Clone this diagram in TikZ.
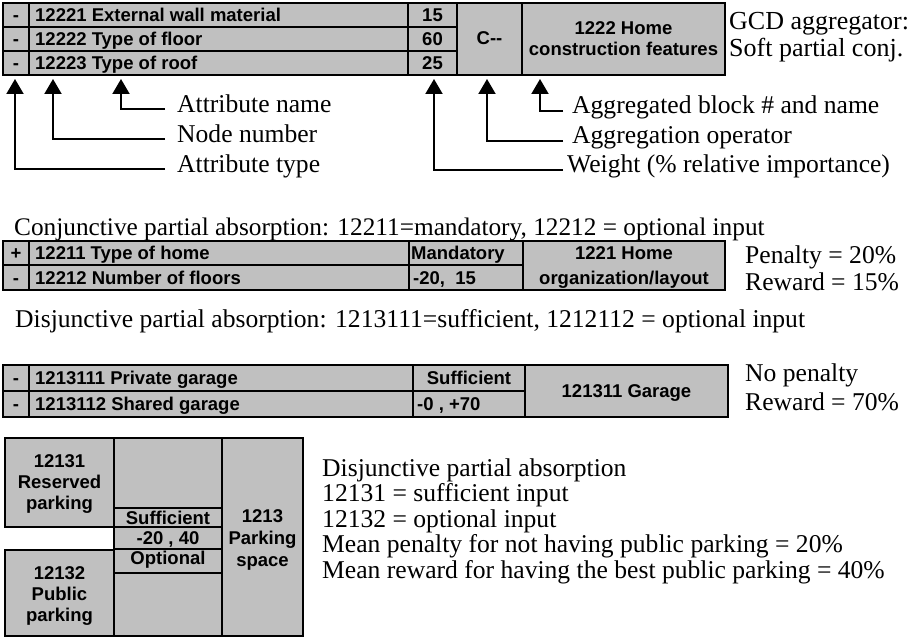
\documentclass[tikz,border=0pt]{standalone}
\usepackage{fontspec}
\setmainfont{Liberation Serif}
\setsansfont{Liberation Sans}
\usetikzlibrary{arrows.meta}
\definecolor{cellgray}{HTML}{C0C0C0}
\newcommand\cellbox[5]{\node[cell,anchor=north west,minimum width=#4pt,minimum height=#5pt] (#1) at (#2,#3) {};}
\begin{document}
\begin{tikzpicture}[x=1pt,y=-1pt,
  cell/.style={draw=black, fill=cellgray, line width=2.6pt, inner sep=0pt, outer sep=0pt},
  st/.style={font=\sffamily\bfseries\fontsize{18.5}{21}\selectfont, inner sep=0pt, anchor=base},
  stw/.style={st, anchor=base west},
  lbl/.style={font=\fontsize{25.6}{27}\selectfont, inner sep=0pt, anchor=base west},
  lblbig/.style={lbl, font=\fontsize{26}{28}\selectfont},
  lblsm/.style={lbl, font=\fontsize{25.3}{27}\selectfont},
  arr/.style={line width=2pt, -{Triangle[width=17pt,length=15pt]}},
]
\useasboundingbox (0,0) rectangle (918,639);

% ---------- Table 1 ----------
\cellbox{t1a1}{3}{3}{26}{24}
\cellbox{t1n1}{29}{3}{379}{24}
\cellbox{t1w1}{408}{3}{49}{24}
\cellbox{t1a2}{3}{27}{26}{24}
\cellbox{t1n2}{29}{27}{379}{24}
\cellbox{t1w2}{408}{27}{49}{24}
\cellbox{t1a3}{3}{51}{26}{24}
\cellbox{t1n3}{29}{51}{379}{24}
\cellbox{t1w3}{408}{51}{49}{24}
\cellbox{t1op}{457}{3}{65}{72}
\cellbox{t1blk}{522}{3}{203}{72}

\node[st] (s1a1) at (16,21.5) {-};
\node[st] (s1a2) at (16,45.5) {-};
\node[st] (s1a3) at (16,69.5) {-};
\node[stw] (s1n1) at (35,21.5) {12221 External wall material};
\node[stw] (s1n2) at (35,45.5) {12222 Type of floor};
\node[stw] (s1n3) at (35,69.5) {12223 Type of roof};
\node[st] (s1w1) at (432.5,21.5) {15};
\node[st] (s1w2) at (432.5,45.5) {60};
\node[st] (s1w3) at (432.5,69.5) {25};
\node[st] (s1op) at (489.5,45) {C{-}{-}};
\node[st] (s1b1) at (623.5,34.5) {1222 Home};
\node[st] (s1b2) at (623.5,55.5) {construction features};

\node[lblbig] (gcd1) at (729,30) {GCD aggregator:};
\node[lblbig] (gcd2) at (729,57) {Soft partial conj.};

% ---------- Arrows and labels ----------
\node[lbl] (lAN) at (177,113) {Attribute name};
\node[lbl] (lNN) at (177,143) {Node number};
\node[lbl] (lAT) at (177,173) {Attribute type};
\node[lbl] (lAB) at (572,114) {Aggregated block \# and name};
\node[lbl] (lAO) at (572,144) {Aggregation operator};
\node[lbl] (lWT) at (567,173) {Weight (\% relative importance)};

\coordinate (tipAN) at (121,79);
\coordinate (tipNN) at (53,79);
\coordinate (tipAT) at (15,79);
\coordinate (tipAB) at (540,79);
\coordinate (tipAO) at (487,79);
\coordinate (tipWT) at (434,79);

\draw[arr] ([xshift=-12pt,yshift=4pt]lAN.base west) -| (tipAN);
\draw[arr] ([xshift=-12pt,yshift=4pt]lNN.base west) -| (tipNN);
\draw[arr] ([xshift=-12pt,yshift=4pt]lAT.base west) -| (tipAT);
\draw[arr] ([xshift=-9pt,yshift=3pt]lAB.base west) -| (tipAB);
\draw[arr] ([xshift=-9pt,yshift=3pt]lAO.base west) -| (tipAO);
\draw[arr] ([xshift=-4pt,yshift=3pt]lWT.base west) -| (tipWT);

% ---------- Table 2 ----------
\node[lblsm] (conj) at (14,235) {Conjunctive partial absorption: 12211=mandatory, 12212 = optional input};
\cellbox{t2a1}{3}{241}{26}{24}
\cellbox{t2n1}{29}{241}{380}{24}
\cellbox{t2w1}{409}{241}{114}{24}
\cellbox{t2a2}{3}{265}{26}{25}
\cellbox{t2n2}{29}{265}{380}{25}
\cellbox{t2w2}{409}{265}{114}{25}
\cellbox{t2blk}{523}{241}{202}{49}

\node[st] (s2a1) at (16,259.5) {+};
\node[st] (s2a2) at (16,284) {-};
\node[stw] (s2n1) at (35,259.5) {12211 Type of home};
\node[stw] (s2n2) at (35,284) {12212 Number of floors};
\node[stw] (s2w1) at (411,259.5) {Mandatory};
\node[stw] (s2w2) at (413,284) {-20,~~15};
\node[st] (s2b1) at (624,259.5) {1221 Home};
\node[st] (s2b2) at (624,284) {organization/layout};

\node[lbl] (pen2) at (745,263) {Penalty = 20\%};
\node[lbl] (rew2) at (745,290) {Reward = 15\%};

% ---------- Table 3 ----------
\node[lbl] (disj) at (15,327) {Disjunctive partial absorption: 1213111=sufficient, 1212112 = optional input};
\cellbox{t3a1}{3}{365}{26}{26}
\cellbox{t3n1}{29}{365}{384}{26}
\cellbox{t3w1}{413}{365}{112}{26}
\cellbox{t3a2}{3}{391}{26}{26}
\cellbox{t3n2}{29}{391}{384}{26}
\cellbox{t3w2}{413}{391}{112}{26}
\cellbox{t3blk}{525}{365}{203}{52}

\node[st] (s3a1) at (16,384.5) {-};
\node[st] (s3a2) at (16,410.5) {-};
\node[stw] (s3n1) at (35,384.5) {1213111 Private garage};
\node[stw] (s3n2) at (35,410.5) {1213112 Shared garage};
\node[st] (s3w1) at (469,384.5) {Sufficient};
\node[stw] (s3w2) at (417,410.5) {-0 , +70};
\node[st] (s3b) at (626.5,397.5) {121311 Garage};

\node[lbl] (pen3) at (745,381) {No penalty};
\node[lbl] (rew3) at (745,410) {Reward = 70\%};

% ---------- Bottom block ----------
\cellbox{b1}{5}{438}{109}{89}
\cellbox{b2}{5}{550}{109}{86}
\cellbox{m0}{114}{438}{108}{70}
\cellbox{m1}{114}{508}{108}{19}
\cellbox{m2}{114}{527}{108}{22}
\cellbox{m3}{114}{549}{108}{24}
\cellbox{m4}{114}{573}{108}{63}
\cellbox{rb}{222}{438}{81}{198}

\node[st] (sb11) at (59.5,467) {12131};
\node[st] (sb12) at (59.5,488) {Reserved};
\node[st] (sb13) at (59.5,509) {parking};
\node[st] (sb21) at (59.5,579.5) {12132};
\node[st] (sb22) at (59.5,600.5) {Public};
\node[st] (sb23) at (59.5,621.5) {parking};
\node[st] (sm1) at (168,524) {Sufficient};
\node[st] (sm2) at (168,544.5) {-20 , 40};
\node[st] (sm3) at (168,564.5) {Optional};
\node[st] (sr1) at (262.5,522.5) {1213};
\node[st] (sr2) at (262.5,544.5) {Parking};
\node[st] (sr3) at (262.5,566.5) {space};

\node[lbl] (d1) at (322,476) {Disjunctive partial absorption};
\node[lbl] (d2) at (322,501.5) {12131 = sufficient input};
\node[lbl] (d3) at (322,527) {12132 = optional input};
\node[lbl] (d4) at (322,552.5) {Mean penalty for not having public parking = 20\%};
\node[lbl] (d5) at (322,578) {Mean reward for having the best public parking = 40\%};
\end{tikzpicture}
\end{document}
